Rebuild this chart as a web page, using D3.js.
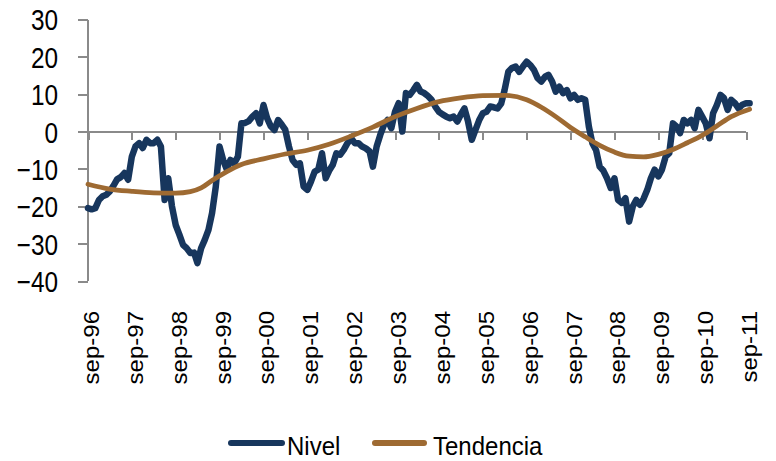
<!DOCTYPE html>
<html><head><meta charset="utf-8">
<script src="https://cdn.jsdelivr.net/npm/d3@7"></script>
<style>
html,body{margin:0;padding:0;background:#fff;}
svg{display:block;font-family:"Liberation Sans",Arial,sans-serif;}
</style></head>
<body><svg id="c" width="776" height="461"></svg>
<script>
// ---- data ----
const startMonth = "1996-09";
const nivelValues = [
-20.5,-20.8,-20.5,-18.3,-17.3,-16.9,-16,-14.5,-12.8,-12.2,-11.1,-12.9,
-6.7,-4,-3.1,-4.4,-2.2,-3.1,-3.1,-2.2,-4,-18.3,-12.5,-20,
-25,-27.5,-30.3,-31.2,-32.5,-32.4,-35.2,-31.2,-29,-26.3,-21.8,-14.7,
-4,-7.6,-10.2,-7.6,-8.5,-6.7,2.2,2.3,2.8,4,4.9,2.2,
7.1,3.6,1.4,0.4,3.1,1.8,0.5,-4,-7.6,-8.9,-8.5,-14.7,
-15.6,-13.4,-10.7,-10.2,-5.8,-12.5,-10.5,-8.9,-5.8,-6.2,-4.9,-3.1,
-1.8,-3.1,-3.1,-4,-4.5,-5.3,-9.4,-4,-0.9,1.8,3.1,0.9,
5.3,7.6,0,10.3,9.8,11.1,12.5,10.7,10.3,9.5,8.5,6.7,
5.3,4.6,4,3.6,4,2.7,4.5,6.2,2.7,-2.2,0.4,3,
4.9,5.3,6.7,6.5,6.2,7.5,11.1,16,17,17.4,16,17.4,
18.7,17.8,16.5,14.3,13.4,14.7,15.2,13.4,10.7,12,10.3,11.1,
8.9,9.8,8.5,8.9,8.5,1.3,-3.1,-5,-9.4,-10.5,-12.5,-15.1,
-12.5,-18.3,-19.1,-17.8,-24.1,-20,-18.3,-19.6,-18,-15.6,-12.5,-10.2,
-12,-10.2,-6.7,-5.8,2.2,1.3,-0.4,3.1,2.2,3.1,0.9,5.8,
4,2.2,-1.8,4.9,7.1,9.8,9,5.8,8.5,7.6,6.2,7.2,
7.6,7.6
];
const trendMonths = [0,6,12,18,24,28,31,34,38,42,48,54,60,66,72,78,84,90,96,102,108,114,120,124,128,132,136,140,144,148,152,156,160,164,168,172,176,181];
const trendValues = [-14.1,-15.4,-16,-16.4,-16.5,-16.1,-15.1,-13.1,-10.7,-8.8,-7.3,-6,-5,-3.4,-1.2,1.2,4,6.2,8,9,9.6,9.7,8.5,6.5,4,1.1,-1.4,-3.7,-5.5,-6.6,-6.8,-6.1,-4.8,-3,-1,1.5,4,6];
const yTicks = [30,20,10,0,-10,-20,-30,-40];
const xTickLabels = ["sep-96","sep-97","sep-98","sep-99","sep-00","sep-01","sep-02","sep-03","sep-04","sep-05","sep-06","sep-07","sep-08","sep-09","sep-10","sep-11"];
const seriesNames = ["Nivel","Tendencia"];
const colors = ["#17365d","#9e6a32"];

// ---- scales ----
const parse = d3.timeParse("%Y-%m");
const t0 = parse(startMonth);
const monthDate = i => d3.timeMonth.offset(t0, i);
const xTickDates = xTickLabels.map((d,i)=>d3.timeYear.offset(t0,i));
const x = d3.scaleTime().domain([t0, xTickDates[xTickDates.length-1]]).range([88, 746]);
const y = d3.scaleLinear().domain([-40, 30]).range([281, 19.5]);

const svg = d3.select("#c");
const axisColor = "#8a8a8a";

// y axis
const gy = svg.append("g").attr("transform","translate(88,0)")
  .call(d3.axisLeft(y).tickValues(yTicks).tickSize(10).tickFormat(d3.format("d")));
gy.select(".domain").attr("stroke",axisColor).attr("stroke-width",2).attr("d","M0,"+y(30)+"V"+y(-40));
gy.selectAll(".tick line").attr("stroke",axisColor).attr("stroke-width",2);
gy.selectAll(".tick text")
  .attr("x",0).attr("dy","0.36em").attr("fill","#000")
  .attr("font-size",29).attr("text-anchor","end")
  .attr("transform","translate(-30,0) scale(0.84,1)");

// x axis at zero
const gx = svg.append("g").attr("transform","translate(0,"+y(0)+")")
  .call(d3.axisBottom(x).tickValues(xTickDates).tickSize(8).tickFormat((d,i)=>xTickLabels[i]));
gx.select(".domain").attr("stroke",axisColor).attr("stroke-width",2).attr("d","M88,0H746");
gx.selectAll(".tick line").attr("stroke",axisColor).attr("stroke-width",2);
gx.selectAll(".tick text")
  .attr("x",0).attr("y",0).attr("dy",0).attr("fill","#000")
  .attr("font-size",24).attr("text-anchor","end")
  .attr("transform","translate(10.5,"+(311-y(0))+") scale(0.9,1) rotate(-90)");
svg.selectAll(".domain, .tick line").attr("shape-rendering","crispEdges");

// lines
const nivelLine = d3.line().x((d,i)=>x(monthDate(i))).y(d=>y(d));
svg.append("path").datum(nivelValues).attr("d",nivelLine)
  .attr("fill","none").attr("stroke",colors[0]).attr("stroke-width",6.5)
  .attr("stroke-linejoin","round").attr("stroke-linecap","round");

const trendLine = d3.line().curve(d3.curveMonotoneX)
  .x((d,i)=>x(monthDate(trendMonths[i]))).y(d=>y(d));
svg.append("path").datum(trendValues).attr("d",trendLine)
  .attr("fill","none").attr("stroke",colors[1]).attr("stroke-width",4.8)
  .attr("stroke-linejoin","round").attr("stroke-linecap","round");

// legend
const legendItems = [{x1:231,x2:282,tx:287},{x1:375,x2:424,tx:433}];
const lg = svg.append("g");
legendItems.forEach((it,i)=>{
  lg.append("line").attr("x1",it.x1).attr("x2",it.x2).attr("y1",443).attr("y2",443)
    .attr("stroke",colors[i]).attr("stroke-width",6).attr("stroke-linecap","round");
  lg.append("text").text(seriesNames[i]).attr("font-size",25).attr("fill","#000")
    .attr("transform","translate("+it.tx+",455) scale(0.96,1)");
});
</script></body></html>
